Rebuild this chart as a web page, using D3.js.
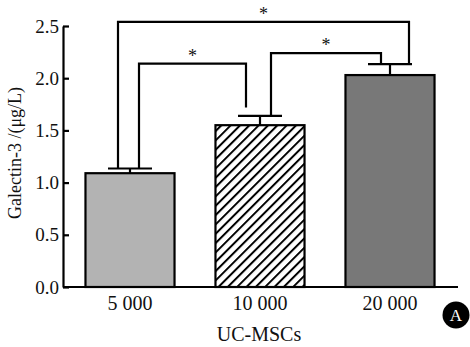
<!DOCTYPE html>
<html>
<head>
<meta charset="utf-8">
<script src="https://cdn.jsdelivr.net/npm/d3@7"></script>
<style>
  body { margin: 0; background: #fff; }
  text { font-family: "Liberation Serif", "Times New Roman", serif; fill: #111; }
</style>
</head>
<body>
<svg id="viz" width="470" height="347"></svg>
<script>
// data
const groups = ["5 000", "10 000", "20 000"];
const means = [1.09, 1.55, 2.03];
const errors = [0.045, 0.09, 0.105];
const yTicks = [0, 0.5, 1.0, 1.5, 2.0, 2.5];

// significance brackets: pair of groups, bracket top value, leg end values
const bracketPairs = [[0, 1], [1, 2], [0, 2]];
const bracketTops = [2.14, 2.24, 2.54];
const bracketLegEnds = [[1.14, 1.72], [1.645, 2.14], [1.14, 2.14]];
const bracketLabels = ["*", "*", "*"];

const fills = ["#b3b3b3", "url(#hatch)", "#787878"];
// leg x offsets from bar centre (px), per bracket
const legOffsets = [[9, -14], [11, -9], [-12, 19]];

let svg = d3.select("#viz");

let x = d3.scaleBand()
    .domain(groups)
    .range([65, 455])
    .paddingInner(0.315)
    .paddingOuter(0.1575);

let y = d3.scaleLinear()
    .domain([0, 2.5])
    .range([287, 26]);

// hatch pattern for middle bar
let defs = svg.append("defs");
defs.append("pattern")
    .attr("id", "hatch")
    .attr("patternUnits", "userSpaceOnUse")
    .attr("width", 6.6)
    .attr("height", 6.6)
    .attr("patternTransform", "rotate(45)")
    .call(p => {
        p.append("rect").attr("width", 6.6).attr("height", 6.6).attr("fill", "#fff");
        p.append("line").attr("x1", 1).attr("y1", 0).attr("x2", 1).attr("y2", 6.6)
            .attr("stroke", "#000").attr("stroke-width", 2);
    });

// bars
svg.append("g").selectAll("rect")
    .data(means)
    .join("rect")
    .attr("x", (d, i) => x(groups[i]))
    .attr("y", d => y(d))
    .attr("width", x.bandwidth())
    .attr("height", d => y(0) - y(d))
    .attr("fill", (d, i) => fills[i])
    .attr("stroke", "#000")
    .attr("stroke-width", 2.2);

// error bars
let eb = svg.append("g").attr("stroke", "#000").attr("stroke-width", 2.2);
means.forEach((m, i) => {
    let cx = x(groups[i]) + x.bandwidth() / 2;
    eb.append("line").attr("x1", cx).attr("x2", cx).attr("y1", y(m)).attr("y2", y(m + errors[i]));
    eb.append("line").attr("x1", cx - 22).attr("x2", cx + 22).attr("y1", y(m + errors[i])).attr("y2", y(m + errors[i]));
});

// brackets
let br = svg.append("g");
bracketPairs.forEach((p, i) => {
    let x1 = x(groups[p[0]]) + x.bandwidth() / 2 + legOffsets[i][0];
    let x2 = x(groups[p[1]]) + x.bandwidth() / 2 + legOffsets[i][1];
    let top = y(bracketTops[i]);
    br.append("path")
        .attr("d", `M${x1},${y(bracketLegEnds[i][0])}V${top}H${x2}V${y(bracketLegEnds[i][1])}`)
        .attr("fill", "none")
        .attr("stroke", "#000")
        .attr("stroke-width", 2.2);
    br.append("text")
        .attr("x", (x1 + x2) / 2)
        .attr("y", top - 2)
        .attr("text-anchor", "middle")
        .attr("font-size", 18)
        .text(bracketLabels[i]);
});

// y axis
let yAxis = svg.append("g")
    .attr("transform", "translate(63,0)")
    .call(d3.axisLeft(y).tickValues(yTicks).tickFormat(d3.format(".1f")).tickSizeInner(-6).tickSizeOuter(0).tickPadding(5));
yAxis.select(".domain").attr("stroke-width", 2.2).attr("stroke", "#000");
yAxis.selectAll(".tick line").attr("stroke-width", 2.2).attr("stroke", "#000");
yAxis.selectAll(".tick text").attr("font-size", 19).attr("font-family", null).attr("dx", 1);

// x axis
let xAxis = svg.append("g")
    .attr("transform", "translate(0,287)")
    .call(d3.axisBottom(x).tickSize(0).tickPadding(9));
xAxis.select(".domain").attr("d", "M63,0H458").attr("stroke-width", 2.2).attr("stroke", "#000");
xAxis.selectAll(".tick text").attr("font-size", 20).attr("font-family", null);

// axis titles
svg.append("text")
    .attr("transform", "translate(21,153) rotate(-90)")
    .attr("text-anchor", "middle")
    .attr("font-size", 18)
    .text("Galectin-3 /(μg/L)");

svg.append("text")
    .attr("x", 259)
    .attr("y", 341)
    .attr("text-anchor", "middle")
    .attr("font-size", 20)
    .text("UC-MSCs");

// panel marker
svg.append("circle").attr("cx", 456).attr("cy", 315).attr("r", 13.5).attr("fill", "#000");
svg.append("text")
    .attr("x", 456).attr("y", 321)
    .attr("text-anchor", "middle")
    .attr("font-size", 17)
    .style("fill", "#fff")
    .text("A");
</script>
</body>
</html>
